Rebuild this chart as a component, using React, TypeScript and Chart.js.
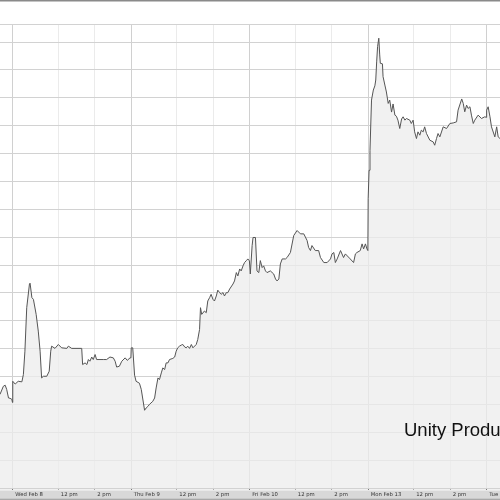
import React, { useEffect, useRef } from "react";
import { Chart, registerables } from "chart.js";

Chart.register(...registerables);

// Trading minutes counted from Wed Feb 8, 9:30 (each session = 390 minutes)
const minutes = [
  -42, -31, -25, -20, -14, -9, -3, -1,
  0, 8, 18, 30, 35, 40, 46, 55, 57, 63, 68, 77, 84, 90, 95, 101, 112, 120, 125, 128,
  139, 150, 161, 178, 183, 194, 227, 230, 238, 244, 249, 254, 260, 265, 271, 276, 298,
  309, 320, 331, 337, 342, 351, 359, 370, 377, 386, 389,
  390, 395, 401, 406, 417, 423, 434, 439, 445, 450, 461, 467, 472, 478, 483, 489, 494,
  500, 505, 511, 516, 527, 533, 538, 543, 549, 555, 560, 566, 571, 576, 582, 588, 593,
  604, 609, 615, 618, 622, 631, 637, 642, 648, 653, 659, 664, 670, 675, 681, 686, 692,
  697, 703, 708, 714, 725, 730, 736, 741, 747, 752, 758, 763, 769, 774, 779,
  782, 788, 791, 799, 804, 810, 815, 821, 826, 832, 837, 848, 859, 865, 870, 876, 881,
  887, 898, 903, 914, 925, 936, 947, 958, 969, 974, 980, 985, 996, 1007, 1013, 1024,
  1035, 1046, 1051, 1057, 1062, 1068, 1079, 1089, 1095, 1111, 1122, 1128, 1133, 1144,
  1150, 1155, 1161, 1166, 1169,
  1170, 1173, 1176, 1181, 1187, 1192, 1195, 1198, 1201, 1205, 1208, 1210, 1217, 1219,
  1225, 1230, 1236, 1241, 1247, 1252, 1258, 1263, 1268, 1274, 1280, 1285, 1291, 1296,
  1307, 1312, 1318, 1323, 1329, 1334, 1340, 1345, 1351, 1356, 1362, 1373, 1384, 1389,
  1395, 1400, 1406, 1417, 1428, 1439, 1450, 1461, 1466, 1478, 1483, 1488, 1494, 1499,
  1505, 1510, 1516, 1521, 1532, 1543, 1554, 1559,
  1560, 1565, 1571, 1576, 1587, 1593, 1598, 1604, 1614,
];

// Price in grid units (one unit per horizontal grid line)
const prices = [
  3.36, 3.65, 3.69, 3.54, 3.23, 3.22, 3.18, 3.07,
  3.83, 3.73, 3.83, 3.81, 4.07, 4.91, 6.47, 7.32, 7.35, 6.83, 6.77, 6.23, 5.63, 4.91, 3.95, 4.01, 4.01, 4.19, 4.91, 5.09,
  5.01, 5.15, 5.03, 5.01, 5.09, 5.01, 5.01, 4.43, 4.49, 4.43, 4.61, 4.55, 4.7, 4.61, 4.79, 4.61, 4.61,
  4.61, 4.7, 4.67, 4.55, 4.34, 4.37, 4.55, 4.67, 4.58, 4.67, 4.7,
  5.03, 5.03, 4.05, 3.83, 3.76, 3.54, 2.79, 2.87, 2.93, 3.0, 3.11, 3.23, 3.59, 3.95, 3.89, 4.13, 4.31,
  4.25, 4.49, 4.49, 4.61, 4.65, 4.7, 4.91, 5.03, 5.09, 5.13, 5.15, 5.06, 5.03, 5.09, 5.01, 5.15, 5.03,
  5.15, 5.33, 5.69, 6.47, 6.23, 6.35, 6.29, 6.71, 6.83, 6.95, 6.77, 6.71, 6.89, 7.1, 7.01, 6.95, 7.01,
  6.89, 7.01, 7.01, 7.14, 7.32, 7.43, 7.73, 7.61, 7.86, 7.79, 7.97, 8.09, 8.16, 8.22, 8.15,
  7.68, 8.7, 8.99, 8.99, 7.79, 7.73, 8.16, 7.91, 7.97, 7.79, 7.73, 7.79, 7.68, 7.5, 7.43, 7.5, 8.04,
  8.22, 8.22, 8.27, 8.45, 9.06, 9.24, 9.12, 9.12, 8.88, 8.63, 8.52, 8.7, 8.52, 8.52, 8.27, 8.09,
  8.09, 8.22, 8.4, 8.45, 8.09, 8.22, 8.52, 8.27, 8.4, 8.22, 8.09, 8.4, 8.45, 8.52,
  8.76, 8.58, 8.76, 8.58, 8.52,
  10.38, 11.4, 12.12, 13.92, 14.28, 14.43, 14.64, 15.29, 15.84, 16.14, 15.54, 15.24, 15.22, 14.76,
  14.46, 14.21, 13.8, 13.92, 13.49, 13.78, 13.38, 13.34, 13.2, 12.9, 13.24, 13.32, 13.2, 13.26,
  13.2, 13.08, 13.2, 12.78, 12.54, 12.78, 12.66, 12.84, 12.78, 12.96, 12.72, 12.48, 12.42, 12.3,
  12.54, 12.72, 12.6, 12.96, 12.9, 13.08, 13.1, 13.14, 13.56, 13.96, 13.8, 13.5, 13.74, 13.62,
  13.68, 13.38, 13.08, 13.2, 13.38, 13.26, 13.32, 13.3,
  13.56, 13.68, 13.32, 12.96, 12.6, 12.96, 12.6, 12.54, 12.66,
];

const tickMinutes = [0, 150, 270, 390, 540, 660, 780, 930, 1050, 1170, 1320, 1440, 1560];
const tickLabels = [
  "Wed Feb 8", "12 pm", "2 pm",
  "Thu Feb 9", "12 pm", "2 pm",
  "Fri Feb 10", "12 pm", "2 pm",
  "Mon Feb 13", "12 pm", "2 pm",
  "Tue Feb 14",
];
const sessionOpens = [0, 390, 780, 1170, 1560];
const viewStart = -42;
const viewEnd = 1604;
const priceMin = 0;
const priceMax = 16.65;
const chartTitle = "Unity Products";

const framePlugin = {
  id: "frame",
  beforeDraw(chart: any) {
    const { ctx, width, height } = chart;
    const xs = chart.scales.x;
    ctx.save();
    ctx.fillStyle = "#ffffff";
    ctx.fillRect(0, 0, width, height);
    ctx.fillStyle = "#f0f0f0";
    ctx.fillRect(0, xs.top, width, 2.5);
    ctx.fillStyle = "#d8d8d8";
    ctx.fillRect(0, xs.top + 2.5, width, height - xs.top - 4);
    ctx.fillStyle = "#a8a8a8";
    ctx.fillRect(0, height - 1.5, width, 1.5);
    ctx.fillStyle = "#8a8a8a";
    ctx.fillRect(0, 0, width, 1.5);
    ctx.restore();
  },
};

export default function App() {
  const ref = useRef<HTMLCanvasElement | null>(null);

  useEffect(() => {
    if (!ref.current) return;
    const data = minutes.map((m, i) => ({ x: m, y: prices[i] }));
    const chart = new Chart(ref.current, {
      type: "line",
      data: {
        datasets: [
          {
            data,
            borderColor: "#555555",
            borderWidth: 1,
            pointRadius: 0,
            tension: 0,
            fill: "start",
            backgroundColor: "rgba(236,236,236,0.75)",
          },
        ],
      },
      options: {
        animation: false,
        responsive: false,
        events: [],
        layout: { padding: { top: 24, left: 0, right: 0, bottom: 0 } },
        plugins: {
          legend: { display: false },
          tooltip: { enabled: false },
          title: { display: false },
        },
        scales: {
          x: {
            type: "linear",
            min: viewStart,
            max: viewEnd,
            border: { display: false },
            afterBuildTicks: (scale: any) => {
              scale.ticks = tickMinutes.map((v) => ({ value: v }));
            },
            afterFit: (scale: any) => {
              scale.paddingLeft = 0;
              scale.paddingRight = 0;
            },
            grid: {
              color: (c: any) =>
                c.tick && sessionOpens.includes(c.tick.value) ? "#d0d0d0" : "#ebebeb",
              tickColor: (c: any) =>
                c.tick && sessionOpens.includes(c.tick.value) ? "#777777" : "#aaaaaa",
              lineWidth: 1,
              tickLength: 2,
              drawTicks: true,
            },
            ticks: {
              autoSkip: false,
              maxRotation: 0,
              minRotation: 0,
              align: "start",
              labelOffset: 2.5,
              padding: -2,
              color: "#333333",
              font: { family: "DejaVu Sans", size: 5.3, lineHeight: 2.64 },
              callback: (value: any) => {
                const i = tickMinutes.indexOf(Number(value));
                return i >= 0 ? tickLabels[i] : "";
              },
            },
          },
          y: {
            type: "linear",
            min: priceMin,
            max: priceMax,
            border: { display: false },
            grid: { color: "#d2d2d2", lineWidth: 1, drawTicks: false },
            ticks: { display: false, stepSize: 1 },
          },
        },
      },
      plugins: [framePlugin],
    });
    return () => chart.destroy();
  }, []);

  return (
    <div
      style={{
        position: "fixed",
        left: 0,
        top: 0,
        width: 500,
        height: 500,
        overflow: "hidden",
        background: "#fff",
      }}
    >
      <canvas ref={ref} width={500} height={500} style={{ display: "block" }} />
      <div
        style={{
          position: "absolute",
          left: 404,
          top: 421,
          fontFamily: "'Liberation Sans', Arial, sans-serif",
          fontSize: 18.5,
          lineHeight: 1,
          color: "#111",
          whiteSpace: "nowrap",
        }}
      >
        {chartTitle}
      </div>
    </div>
  );
}
